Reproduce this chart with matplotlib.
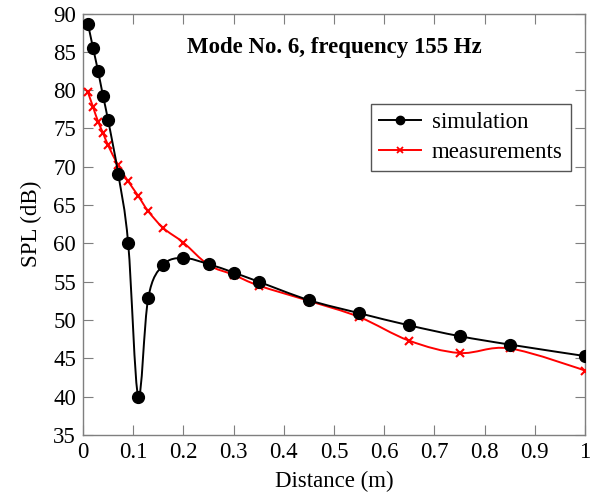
import numpy as np
import matplotlib
matplotlib.use('Agg')
import matplotlib.pyplot as plt
from matplotlib.path import Path
from matplotlib.patches import PathPatch
from matplotlib.lines import Line2D

plt.rcParams['font.family'] = ['Liberation Serif', 'DejaVu Serif']
plt.rcParams['mathtext.fontset'] = 'stix'

# simulation
sim_x = [0.01, 0.02, 0.03, 0.04, 0.05, 0.07, 0.09, 0.11, 0.13, 0.16, 0.20,
         0.25, 0.30, 0.35, 0.45, 0.55, 0.65, 0.75, 0.85, 1.00]
sim_y = [88.6, 85.5, 82.5, 79.2, 76.1, 69.1, 60.0, 40.0, 52.9, 57.2, 58.1,
         57.3, 56.2, 55.0, 52.6, 50.9, 49.3, 47.9, 46.8, 45.3]

# measurements
meas_x = [0.01, 0.02, 0.03, 0.04, 0.05, 0.07, 0.09, 0.11, 0.13, 0.16, 0.20,
          0.25, 0.30, 0.35, 0.45, 0.55, 0.65, 0.75, 0.85, 1.00]
meas_y = [79.7, 77.8, 75.9, 74.4, 72.8, 70.2, 68.1, 66.2, 64.2, 62.0, 60.1,
          57.2, 55.9, 54.5, 52.5, 50.4, 47.3, 45.7, 46.3, 43.4]

XLIM = (0, 1)
YLIM = (35, 90)
FS = 16.5


def smooth_path(x, y, sx, sy, tension=0.17):
    """pgfplots-like smooth curve (cubic Bezier through the points)."""
    p = np.column_stack([np.asarray(x) * sx, np.asarray(y) * sy])
    n = len(p)
    verts = [p[0]]
    codes = [Path.MOVETO]
    for i in range(n - 1):
        a, b = p[i], p[i + 1]
        da = (p[i + 1] - p[i - 1]) if i > 0 else np.zeros(2)
        db = (p[i + 2] - p[i]) if i + 2 < n else np.zeros(2)
        c1 = a + tension * da
        c2 = b - tension * db
        verts += [c1, c2, b]
        codes += [Path.CURVE4] * 3
    verts = np.array(verts)
    verts[:, 0] /= sx
    verts[:, 1] /= sy
    return Path(verts, codes)


fig = plt.figure(figsize=(5.93, 5.0), dpi=100)
ax = fig.add_axes([83 / 593, 1 - 435 / 500, 502 / 593, 421.5 / 500])

# pixel scale factors so smoothing is done in screen space
sx = 502.0 / (XLIM[1] - XLIM[0])
sy = 421.5 / (YLIM[1] - YLIM[0])

ax.add_patch(PathPatch(smooth_path(meas_x, meas_y, sx, sy), fc='none',
                       ec='red', lw=1.4, zorder=2))
ax.plot(meas_x, meas_y, ls='none', marker='x', color='red',
        ms=5.5, mew=1.5, zorder=3)
ax.add_patch(PathPatch(smooth_path(sim_x, sim_y, sx, sy), fc='none',
                       ec='black', lw=1.4, zorder=4))
ax.plot(sim_x, sim_y, ls='none', marker='o', color='black',
        ms=8.5, zorder=5)

ax.set_xlim(*XLIM)
ax.set_ylim(*YLIM)
ax.set_xticks(np.arange(0, 1.01, 0.1))
ax.set_xticklabels(['0', '0.1', '0.2', '0.3', '0.4', '0.5', '0.6', '0.7',
                    '0.8', '0.9', '1'])
ax.set_yticks(np.arange(35, 91, 5))

for s in ax.spines.values():
    s.set_color('#7f7f7f')
    s.set_linewidth(1.0)
ax.tick_params(direction='in', length=7, width=0.8, color='#7f7f7f',
               top=True, right=True, labelsize=FS, pad=5)

ax.set_xlabel('Distance (m)', fontsize=FS, labelpad=6)
ax.set_ylabel('SPL (dB)', fontsize=FS, labelpad=8)

ax.text(0.5, 0.92, 'Mode No. 6, frequency 155 Hz', transform=ax.transAxes,
        ha='center', va='center', fontsize=FS, fontweight='bold')

handles = [Line2D([], [], color='black', marker='o', ms=6, lw=1.4),
           Line2D([], [], color='red', marker='x', ms=4, mew=1.3, lw=1.4)]
leg = ax.legend(handles, ['simulation', 'measurements'], loc='upper right',
                bbox_to_anchor=(0.972, 0.785), fontsize=FS, fancybox=False,
                framealpha=1, edgecolor='#555555', handlelength=1.8,
                handletextpad=0.5, borderpad=0.35, labelspacing=0.4,
                borderaxespad=0.0)
leg.get_frame().set_linewidth(1.0)

fig.savefig('out.png', dpi=100)
